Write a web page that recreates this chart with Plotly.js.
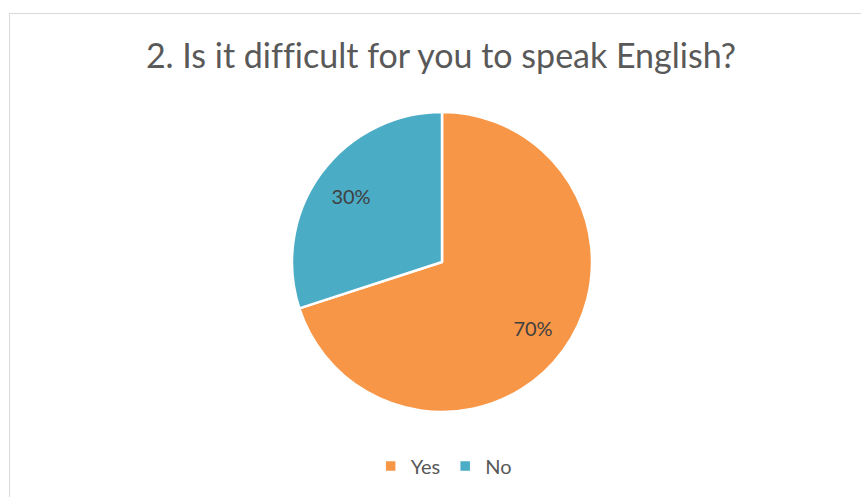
<!DOCTYPE html>
<html>
<head>
<meta charset="utf-8">
<script src="https://cdn.plot.ly/plotly-3.0.1.min.js"></script>
<style>
  html, body { margin: 0; padding: 0; background: #ffffff; }
  #wrap { position: relative; width: 861px; height: 497px; overflow: hidden; }
  #frame { position: absolute; left: 9px; top: 13px; width: 870px; height: 500px; border: 1px solid #d9d9d9; box-sizing: border-box; pointer-events: none; }
  #chart { position: absolute; left: 0; top: 0; width: 861px; height: 497px; }
  #chart text { font-variant-ligatures: none; font-feature-settings: "liga" 0; }
</style>
</head>
<body>
<div id="wrap">
  <div id="frame"></div>
  <div id="chart"></div>
</div>
<script>
const categories = ["Yes", "No"];
const values = [70, 30];
const colors = ["#F79646", "#4BACC6"];
const titleText = "2. Is it difficult for you to speak English?";

const FONT = "Lato, 'Open Sans', 'Liberation Sans', sans-serif";

// filled pie (no text)
const pieFill = {
  type: "pie",
  labels: categories,
  values: values,
  sort: false,
  direction: "clockwise",
  rotation: 0,
  marker: { colors: colors, line: { color: "#ffffff", width: 2.5 } },
  textinfo: "none",
  hoverinfo: "label+percent",
  showlegend: true
};

// transparent ring carrying the percentage labels (places them at ~3/4 radius)
const pieText = {
  type: "pie",
  labels: categories,
  values: values,
  sort: false,
  direction: "clockwise",
  rotation: 0,
  hole: 0.5,
  marker: { colors: ["rgba(0,0,0,0)", "rgba(0,0,0,0)"], line: { width: 0 } },
  textinfo: "percent",
  texttemplate: "%{percent:.0%}",
  textposition: "inside",
  insidetextorientation: "horizontal",
  textfont: { family: FONT, size: 20, color: "#404040" },
  hoverinfo: "skip",
  showlegend: false
};

const layout = {
  width: 861,
  height: 497,
  paper_bgcolor: "rgba(0,0,0,0)",
  plot_bgcolor: "rgba(0,0,0,0)",
  margin: { l: 23, r: 0, t: 112, b: 85, pad: 0 },
  font: { family: FONT, color: "#595959" },
  title: {
    text: titleText,
    font: { family: FONT, size: 34, color: "#595959" },
    xref: "container", yref: "container",
    x: 441 / 861, xanchor: "center",
    y: 1 - 56 / 497, yanchor: "middle"
  },
  legend: {
    orientation: "h",
    x: 0.502, xanchor: "center",
    y: -0.18, yanchor: "middle",
    font: { family: FONT, size: 20, color: "#595959" },
    itemwidth: 30,
    traceorder: "normal"
  }
};

Plotly.newPlot("chart", [pieFill, pieText], layout, { displayModeBar: false, staticPlot: true });
</script>
</body>
</html>
